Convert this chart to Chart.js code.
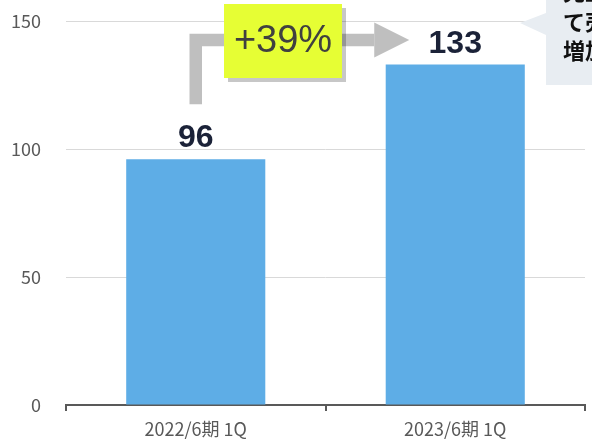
<!DOCTYPE html>
<html>
<head>
<meta charset="utf-8">
<script src="https://cdn.jsdelivr.net/npm/chart.js@4.4.0/dist/chart.umd.min.js"></script>
<style>
  html, body { margin: 0; padding: 0; background: #ffffff; }
  #wrap { width: 592px; height: 441px; }
</style>
</head>
<body>
<div id="wrap"><canvas id="myChart" width="592" height="441"></canvas></div>
<script>
// 데이터
var categories = ['2022/6期 1Q', '2023/6期 1Q'];
var values = [96, 133];
var yTicks = [0, 50, 100, 150];
var growthLabel = '+39%';
var calloutLines = ['売上収益', 'て売上高が', '増加'];

// 주석(화살표, 증가율 박스, 말풍선, 값 라벨) 그리기
var annotatePlugin = {
    id: 'annotate',
    afterDatasetsDraw: function(chart) {
        var ctx = chart.ctx;
        var meta = chart.getDatasetMeta(0);
        var b0 = meta.data[0];
        var b1 = meta.data[1];

        ctx.save();

        // 값 라벨
        ctx.fillStyle = '#1b2238';
        ctx.font = 'bold 32px "Liberation Sans", Arial, sans-serif';
        ctx.textAlign = 'center';
        ctx.textBaseline = 'alphabetic';
        meta.data.forEach(function(bar, i) {
            ctx.fillText(String(values[i]), bar.x, bar.y - 12);
        });

        // 회색 화살표
        var ay = b1.y - 24.5;
        var tipX = b1.x - 46;
        var headX = tipX - 35;
        ctx.strokeStyle = '#bfbfbf';
        ctx.lineWidth = 12.5;
        ctx.lineJoin = 'miter';
        ctx.lineCap = 'butt';
        ctx.beginPath();
        ctx.moveTo(b0.x, b0.y - 55);
        ctx.lineTo(b0.x, ay);
        ctx.lineTo(headX, ay);
        ctx.stroke();
        ctx.fillStyle = '#bfbfbf';
        ctx.beginPath();
        ctx.moveTo(headX, ay - 17.5);
        ctx.lineTo(tipX, ay);
        ctx.lineTo(headX, ay + 17.5);
        ctx.closePath();
        ctx.fill();

        // 증가율 박스 (그림자 포함)
        var bx = 224, by = 4, bw = 118, bh = 74;
        ctx.fillStyle = 'rgba(0,0,0,0.22)';
        ctx.fillRect(bx + 4, by + 4, bw, bh);
        ctx.fillStyle = '#e6fe34';
        ctx.fillRect(bx, by, bw, bh);
        ctx.fillStyle = '#404040';
        ctx.font = '38px "Liberation Sans", Arial, sans-serif';
        ctx.textAlign = 'center';
        ctx.textBaseline = 'middle';
        ctx.fillText(growthLabel, bx + bw / 2, by + bh / 2 + 1);

        // 오른쪽 위 말풍선
        ctx.fillStyle = '#e8edf2';
        ctx.beginPath();
        ctx.moveTo(546, -5);
        ctx.lineTo(600, -5);
        ctx.lineTo(600, 85);
        ctx.lineTo(546, 85);
        ctx.lineTo(546, 35);
        ctx.lineTo(520, 23);
        ctx.lineTo(546, 13);
        ctx.closePath();
        ctx.fill();
        ctx.fillStyle = '#111111';
        ctx.font = 'bold 22px "Noto Sans CJK JP", sans-serif';
        ctx.textAlign = 'left';
        ctx.textBaseline = 'middle';
        calloutLines.forEach(function(line, i) {
            ctx.fillText(line, 563, -8 + i * 29.5);
        });

        ctx.restore();
    }
};

var ctx = document.getElementById('myChart').getContext('2d');
var myChart = new Chart(ctx, {
    type: 'bar',
    data: {
        labels: categories,
        datasets: [{
            data: values,
            backgroundColor: '#5eade6',
            borderWidth: 0,
            categoryPercentage: 1.0,
            barPercentage: 0.536
        }]
    },
    options: {
        responsive: false,
        devicePixelRatio: 1,
        animation: false,
        layout: { padding: { top: 21, right: 7, left: 0, bottom: 0 } },
        plugins: {
            legend: { display: false },
            tooltip: { enabled: false }
        },
        scales: {
            x: {
                grid: {
                    display: true,
                    drawOnChartArea: false,
                    drawTicks: true,
                    tickLength: 6,
                    color: '#595959',
                    lineWidth: 2
                },
                border: { display: true, color: '#595959', width: 2 },
                ticks: {
                    color: '#595959',
                    font: { family: '"Noto Sans CJK JP", sans-serif', size: 18 },
                    padding: 7
                },
                afterFit: function(scale) { scale.height = 36; }
            },
            y: {
                min: 0,
                max: 150,
                afterBuildTicks: function(scale) {
                    scale.ticks = yTicks.map(function(v) { return { value: v }; });
                },
                grid: {
                    color: '#d9d9d9',
                    lineWidth: 1,
                    drawTicks: false
                },
                border: { display: false },
                ticks: {
                    color: '#595959',
                    font: { family: '"Noto Sans CJK JP", sans-serif', size: 18 },
                    padding: 25
                },
                afterFit: function(scale) {
                    scale.width = 66;
                    scale.paddingTop = 0;
                    scale.paddingBottom = 0;
                }
            }
        }
    },
    plugins: [annotatePlugin]
});
</script>
</body>
</html>
